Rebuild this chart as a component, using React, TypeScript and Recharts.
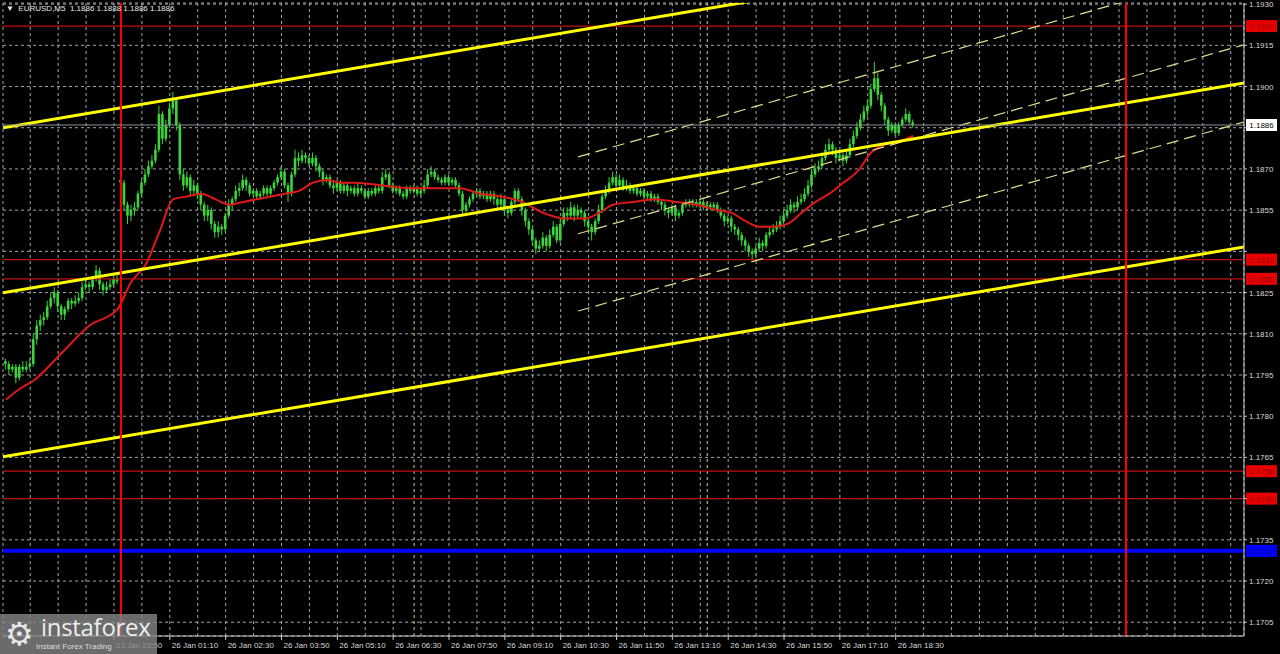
import React from "react";
import {
  ComposedChart,
  Bar,
  Line,
  XAxis,
  YAxis,
  CartesianGrid,
  ReferenceLine,
} from "recharts";

// EURUSD M5: last bars of Friday + Monday 26 Jan. Time axis is minutes from 26 Jan 00:00.
const firstBarTime = -165;
const barMinutes = 5;
const firstOpen = 1.18;
const sessionStartBar = 33; // first bar after the weekend gap
const sessionOpen = 1.1866;

const closes = [
  1.1799, 1.1797, 1.1798, 1.1794, 1.1798, 1.1797, 1.1798, 1.1799, 1.1808, 1.1813,
  1.1815, 1.1816, 1.182, 1.1823, 1.1825, 1.182, 1.1817, 1.1819, 1.1822, 1.1821,
  1.1822, 1.1823, 1.1827, 1.1828, 1.1827, 1.183, 1.1833, 1.1828, 1.1826, 1.1827,
  1.1828, 1.183, 1.1829, 1.1865, 1.1857, 1.1853, 1.1855, 1.1856, 1.1861, 1.1865,
  1.1868, 1.1871, 1.1873, 1.1877, 1.189, 1.1881, 1.1886, 1.1892, 1.1895, 1.1886,
  1.1868, 1.1864, 1.1867, 1.1862, 1.1864, 1.1861, 1.1857, 1.1853, 1.1855, 1.185,
  1.1847, 1.1849, 1.1848, 1.1853, 1.1857, 1.1859, 1.1862, 1.1863, 1.1866, 1.1864,
  1.1861, 1.1862, 1.186, 1.1861, 1.1863, 1.1861, 1.1863, 1.1865, 1.1867, 1.1869,
  1.1864, 1.1861, 1.1868, 1.1874, 1.1873, 1.1875, 1.1874, 1.1872, 1.1874, 1.1871,
  1.1869, 1.1866, 1.1867, 1.1864, 1.1863, 1.1865, 1.1862, 1.1864, 1.1862, 1.1863,
  1.1861, 1.1863, 1.1862, 1.186, 1.1862, 1.1861, 1.1863, 1.1862, 1.1867, 1.1868,
  1.1864, 1.1862, 1.1863, 1.1861, 1.186, 1.1863, 1.1862, 1.1863, 1.1861, 1.1862,
  1.1864, 1.1868, 1.1869, 1.1867, 1.1866, 1.1865, 1.1867, 1.1865, 1.1866, 1.1864,
  1.1861, 1.1855, 1.1857, 1.1859, 1.1861, 1.1862, 1.186, 1.1861, 1.1859, 1.1861,
  1.1859, 1.1857, 1.1859, 1.1855, 1.1854, 1.1858, 1.1862, 1.1859, 1.1855, 1.1851,
  1.1848, 1.1844, 1.1841, 1.1842, 1.1845, 1.1842, 1.1846, 1.1849, 1.1844, 1.185,
  1.1854, 1.1853, 1.1856, 1.1853, 1.1855, 1.1854, 1.1851, 1.1849, 1.1847, 1.1851,
  1.1855, 1.186, 1.1862, 1.1865, 1.1867, 1.1864, 1.1866, 1.1863, 1.1864, 1.1862,
  1.1863, 1.1861, 1.1862, 1.186, 1.1861, 1.1859, 1.186, 1.1858, 1.1857, 1.1855,
  1.1854, 1.1856, 1.1853, 1.1854, 1.1857, 1.1858, 1.1857, 1.1858, 1.1857, 1.1858,
  1.1856, 1.1857, 1.1856, 1.1857, 1.1855, 1.1853, 1.1851, 1.1852, 1.1849, 1.1848,
  1.1846, 1.1844, 1.1842, 1.184, 1.1839, 1.1841, 1.1843, 1.1842, 1.1846, 1.1847,
  1.1848, 1.1849, 1.1851, 1.1853, 1.1855, 1.1857, 1.1856, 1.1858, 1.1859, 1.1861,
  1.1864, 1.1868, 1.187, 1.1871, 1.1874, 1.1877, 1.1879, 1.1877, 1.1874, 1.1875,
  1.1873, 1.1875, 1.1879, 1.1882, 1.1885, 1.1888, 1.1891, 1.1893, 1.1899, 1.1903,
  1.1897, 1.1893, 1.1888, 1.1884, 1.1886, 1.1883, 1.1886, 1.1888, 1.189, 1.1887, 1.1886,
];

const highs = [
  1.1801, 1.18, 1.1799, 1.1799, 1.1799, 1.18, 1.18, 1.1801, 1.181, 1.1815,
  1.1817, 1.1818, 1.1822, 1.1825, 1.1827, 1.1826, 1.1821, 1.182, 1.1823, 1.1823,
  1.1824, 1.1825, 1.1829, 1.183, 1.1829, 1.1831, 1.1835, 1.1834, 1.1829, 1.1829,
  1.183, 1.1831, 1.1832, 1.1868, 1.1866, 1.1858, 1.1857, 1.1858, 1.1862, 1.1866,
  1.187, 1.1873, 1.1875, 1.1879, 1.1893, 1.1891, 1.1888, 1.1894, 1.1898, 1.1896,
  1.1887, 1.187, 1.1869, 1.1868, 1.1866, 1.1865, 1.1862, 1.1858, 1.1857, 1.1856,
  1.1851, 1.1851, 1.185, 1.1854, 1.1859, 1.186, 1.1864, 1.1865, 1.1868, 1.1867,
  1.1865, 1.1863, 1.1863, 1.1862, 1.1864, 1.1864, 1.1864, 1.1866, 1.1868, 1.1871,
  1.187, 1.1865, 1.1869, 1.1877, 1.1876, 1.1877, 1.1876, 1.1875, 1.1876, 1.1875,
  1.1872, 1.187, 1.1868, 1.1868, 1.1866, 1.1866, 1.1866, 1.1865, 1.1865, 1.1864,
  1.1864, 1.1865, 1.1864, 1.1863, 1.1863, 1.1863, 1.1864, 1.1864, 1.1869, 1.187,
  1.1869, 1.1865, 1.1864, 1.1864, 1.1862, 1.1864, 1.1864, 1.1864, 1.1864, 1.1863,
  1.1866, 1.187, 1.1871, 1.187, 1.1868, 1.1867, 1.1868, 1.1868, 1.1867, 1.1867,
  1.1865, 1.1862, 1.1858, 1.186, 1.1862, 1.1863, 1.1863, 1.1862, 1.1862, 1.1862,
  1.1862, 1.186, 1.1861, 1.186, 1.1856, 1.1859, 1.1863, 1.1863, 1.186, 1.1856,
  1.1852, 1.1849, 1.1845, 1.1844, 1.1847, 1.1846, 1.1848, 1.1851, 1.185, 1.1852,
  1.1856, 1.1856, 1.1858, 1.1857, 1.1857, 1.1856, 1.1855, 1.1852, 1.185, 1.1852,
  1.1857, 1.1861, 1.1864, 1.1867, 1.1869, 1.1868, 1.1868, 1.1867, 1.1866, 1.1865,
  1.1864, 1.1864, 1.1863, 1.1863, 1.1862, 1.1862, 1.1861, 1.1861, 1.1859, 1.1858,
  1.1856, 1.1857, 1.1857, 1.1855, 1.1858, 1.1859, 1.1859, 1.1859, 1.1859, 1.1859,
  1.1859, 1.1858, 1.1858, 1.1858, 1.1858, 1.1856, 1.1854, 1.1853, 1.1853, 1.185,
  1.1849, 1.1847, 1.1845, 1.1843, 1.1841, 1.1842, 1.1845, 1.1844, 1.1847, 1.1849,
  1.185, 1.1851, 1.1853, 1.1855, 1.1857, 1.1859, 1.1858, 1.186, 1.1861, 1.1863,
  1.1866, 1.187, 1.1872, 1.1873, 1.1876, 1.1879, 1.1881, 1.188, 1.1878, 1.1877,
  1.1876, 1.1877, 1.1881, 1.1884, 1.1887, 1.189, 1.1893, 1.1895, 1.1901, 1.1909,
  1.1905, 1.1898, 1.1894, 1.1889, 1.1887, 1.1887, 1.1887, 1.1889, 1.1892, 1.1891, 1.1888,
];

const lows = [
  1.1797, 1.1795, 1.1796, 1.1792, 1.1793, 1.1796, 1.1796, 1.1797, 1.1798, 1.1806,
  1.1811, 1.1813, 1.1815, 1.1819, 1.1821, 1.1818, 1.1815, 1.1815, 1.1818, 1.1819,
  1.182, 1.1821, 1.1822, 1.1826, 1.1825, 1.1826, 1.1829, 1.1826, 1.1824, 1.1825,
  1.1826, 1.1827, 1.1828, 1.1862, 1.1855, 1.185, 1.1851, 1.1853, 1.1855, 1.186,
  1.1864, 1.1867, 1.187, 1.1872, 1.1876, 1.1879, 1.188, 1.1885, 1.189, 1.1884,
  1.1866, 1.1862, 1.1863, 1.186, 1.186, 1.1859, 1.1855, 1.1851, 1.1851, 1.1848,
  1.1845, 1.1845, 1.1846, 1.1847, 1.1852, 1.1855, 1.1858, 1.186, 1.1862, 1.1862,
  1.186, 1.186, 1.1859, 1.1859, 1.186, 1.186, 1.186, 1.1862, 1.1864, 1.1866,
  1.1863, 1.1858, 1.186, 1.1867, 1.1871, 1.1872, 1.1872, 1.1871, 1.1871, 1.1869,
  1.1867, 1.1864, 1.1865, 1.1863, 1.1861, 1.1862, 1.1861, 1.1861, 1.186, 1.1861,
  1.186, 1.186, 1.1861, 1.1859, 1.1859, 1.186, 1.186, 1.1861, 1.1861, 1.1866,
  1.1863, 1.1861, 1.1861, 1.186, 1.1859, 1.1859, 1.1861, 1.1861, 1.186, 1.186,
  1.1861, 1.1863, 1.1867, 1.1866, 1.1865, 1.1864, 1.1864, 1.1864, 1.1864, 1.1863,
  1.186, 1.1853, 1.1854, 1.1856, 1.1858, 1.186, 1.1859, 1.1859, 1.1858, 1.1858,
  1.1857, 1.1855, 1.1856, 1.1853, 1.1852, 1.1853, 1.1857, 1.1858, 1.1853, 1.1849,
  1.1846, 1.1842, 1.1839, 1.184, 1.1841, 1.184, 1.1841, 1.1845, 1.1843, 1.1843,
  1.1849, 1.1851, 1.1852, 1.1851, 1.1852, 1.1852, 1.1849, 1.1847, 1.1844, 1.1846,
  1.185, 1.1854, 1.1859, 1.1861, 1.1864, 1.1863, 1.1863, 1.1862, 1.1862, 1.1861,
  1.1861, 1.186, 1.186, 1.1859, 1.1859, 1.1858, 1.1858, 1.1857, 1.1855, 1.1853,
  1.1852, 1.1853, 1.1851, 1.1852, 1.1853, 1.1856, 1.1856, 1.1856, 1.1856, 1.1856,
  1.1855, 1.1855, 1.1855, 1.1855, 1.1854, 1.1852, 1.1849, 1.185, 1.1847, 1.1846,
  1.1844, 1.1842, 1.184, 1.1838, 1.1837, 1.1838, 1.184, 1.184, 1.1841, 1.1845,
  1.1846, 1.1847, 1.1848, 1.185, 1.1852, 1.1854, 1.1854, 1.1855, 1.1857, 1.1858,
  1.186, 1.1863, 1.1867, 1.1869, 1.187, 1.1873, 1.1876, 1.1875, 1.1872, 1.1873,
  1.1871, 1.1872, 1.1874, 1.1878, 1.1881, 1.1884, 1.1887, 1.1889, 1.1892, 1.1898,
  1.1895, 1.1891, 1.1886, 1.1882, 1.1883, 1.1882, 1.1882, 1.1885, 1.1887, 1.1886, 1.1885,
];

// moving average, sampled at these bar indexes
const maBars = [
  0, 4, 8, 16, 24, 32, 36, 40, 44, 48, 52, 56, 60, 64, 68, 72, 76, 80, 84, 88,
  92, 96, 100, 108, 116, 124, 130, 136, 142, 148, 154, 160, 166, 170, 174, 180,
  186, 192, 198, 204, 208, 212, 216, 220, 224, 228, 232, 236, 240, 244, 248, 252,
  256, 260,
];
const maValues = [
  1.1786, 1.179, 1.1793, 1.1803, 1.1813, 1.1819, 1.1829, 1.1835, 1.1847, 1.1859,
  1.186, 1.1861, 1.1859, 1.1857, 1.1858, 1.1859, 1.186, 1.1861, 1.1862, 1.1865,
  1.1866, 1.1865, 1.1865, 1.1864, 1.1863, 1.1863, 1.1863, 1.1861, 1.186, 1.1858,
  1.1854, 1.1852, 1.1852, 1.1854, 1.1857, 1.1858, 1.1859, 1.1858, 1.1857, 1.1855,
  1.1854, 1.1851, 1.1849, 1.1849, 1.185, 1.1854, 1.1858, 1.1861, 1.1865, 1.1869,
  1.1876, 1.1879, 1.188, 1.1882,
];

const yTicks = [
  1.1705, 1.172, 1.1735, 1.175, 1.1765, 1.178, 1.1795, 1.181, 1.1825, 1.184,
  1.1855, 1.187, 1.1885, 1.19, 1.1915, 1.193,
];
const xTickTimes = [-10, 70, 150, 230, 310, 390, 470, 550, 630, 710, 790, 870, 950, 1030, 1110];
const xTickLabels = [
  "23 Jan 23:50", "26 Jan 01:10", "26 Jan 02:30", "26 Jan 03:50",
  "26 Jan 05:10", "26 Jan 06:30", "26 Jan 07:50", "26 Jan 09:10", "26 Jan 10:30",
  "26 Jan 11:50", "26 Jan 13:10", "26 Jan 14:30", "26 Jan 15:50", "26 Jan 17:10",
  "26 Jan 18:30",
];

const redLevels = [1.1922, 1.1837, 1.183, 1.176, 1.175];
const blueLevel = 1.1731;
const lastPrice = 1.1886;
const dayBreaks = [0, 1440];
const sessionMarks = [420, 840];

// [t1, price1, t2, price2]
const trendChannel = [
  [-169, 1.1885, 1609, 1.19614],
  [-169, 1.18249, 1609, 1.19013],
  [-169, 1.17652, 1609, 1.18416],
];
const regressionChannel = [
  [655, 1.18744, 1609, 1.19433],
  [655, 1.18464, 1609, 1.19152],
  [655, 1.18183, 1609, 1.18871],
];

const X_DOMAIN = [-169, 1609];
const Y_DOMAIN = [1.17, 1.19304];
const FONT = "'Liberation Sans', Arial, sans-serif";
const CANDLE = "#3bd43b";

const xGridTimes: number[] = [];
for (let t = -130; t <= 1609; t += 40) xGridTimes.push(t);

const candles = closes.map((close, i) => {
  const open = i === 0 ? firstOpen : i === sessionStartBar ? sessionOpen : closes[i - 1];
  return {
    t: firstBarTime + i * barMinutes,
    open,
    close,
    high: highs[i],
    low: lows[i],
    range: [lows[i], highs[i]],
    ma: undefined as number | undefined,
  };
});
maBars.forEach((b, k) => {
  candles[b].ma = maValues[k];
});

const Candle = (props: any) => {
  const { x, y, width, height, payload } = props;
  if (x == null || !payload) return <g />;
  const top = Math.min(y, y + height);
  const h = Math.abs(height);
  const span = payload.high - payload.low || 1;
  const py = (v: number) => top + ((payload.high - v) / span) * h;
  const cx = x + width / 2;
  const bTop = py(Math.max(payload.open, payload.close));
  const bBot = py(Math.min(payload.open, payload.close));
  return (
    <g>
      <line x1={cx} x2={cx} y1={top} y2={top + h} stroke={CANDLE} strokeWidth={1} />
      <rect x={x} y={bTop} width={width} height={Math.max(1, bBot - bTop)} fill={CANDLE} />
    </g>
  );
};

const boxedLevels = [...redLevels, blueLevel, lastPrice];

const PriceTick = (props: any) => {
  const { x, y, payload } = props;
  const v = payload.value;
  const hidden = boxedLevels.some((l) => Math.abs(l - v) < 0.0003);
  return (
    <g>
      <line x1={x} x2={x + 3} y1={y} y2={y} stroke="#c8c8c8" />
      {!hidden && (
        <text x={x + 5} y={y + 3} fill="#d8d8d8" fontSize={8} fontFamily={FONT}>
          {v.toFixed(4)}
        </text>
      )}
    </g>
  );
};

const TimeTick = (props: any) => {
  const { x, y, payload } = props;
  const idx = xTickTimes.indexOf(payload.value);
  if (idx < 0) return <g />;
  return (
    <g>
      <line x1={x} x2={x} y1={y} y2={y + 4} stroke="#c8c8c8" />
      <text x={x + 2} y={y + 12} fill="#d8d8d8" fontSize={8} fontFamily={FONT}>
        {xTickLabels[idx]}
      </text>
    </g>
  );
};

const priceTag = (value: number, bg: string, fg: string) => (props: any) => {
  const vb = props.viewBox;
  if (!vb) return null;
  const x = vb.x + vb.width + 2;
  return (
    <g>
      <rect x={x} y={vb.y - 6} width={31} height={12} fill={bg} />
      <text x={x + 15.5} y={vb.y + 3} textAnchor="middle" fill={fg} fontSize={8} fontFamily={FONT}>
        {value.toFixed(4)}
      </text>
    </g>
  );
};

export default function App() {
  return (
    <div
      style={{
        position: "fixed",
        left: 0,
        top: 0,
        width: 1280,
        height: 654,
        background: "#000",
        overflow: "hidden",
      }}
    >
      <ComposedChart
        width={1280}
        height={654}
        data={candles}
        margin={{ top: 3, right: 0, bottom: 0, left: 3 }}
      >
        <CartesianGrid stroke="#a4a4a4" strokeDasharray="3 3" />
        <XAxis
          dataKey="t"
          type="number"
          domain={X_DOMAIN}
          ticks={xGridTimes}
          allowDataOverflow
          height={18}
          tickSize={0}
          tickMargin={0}
          tickLine={false}
          tick={TimeTick}
          stroke="#c8c8c8"
          interval={0}
        />
        <YAxis
          orientation="right"
          domain={Y_DOMAIN}
          ticks={yTicks}
          allowDataOverflow
          width={36}
          tickSize={0}
          tickMargin={0}
          tickLine={false}
          tick={PriceTick}
          stroke="#c8c8c8"
          interval={0}
        />

        {sessionMarks.map((t) => (
          <ReferenceLine key={`s${t}`} x={t} stroke="#cfd27e" strokeDasharray="3 3" />
        ))}

        {redLevels.map((v) => (
          <ReferenceLine
            key={`r${v}`}
            y={v}
            stroke="#c01010"
            strokeWidth={1.2}
            label={priceTag(v, "#e80000", "#9a0000")}
          />
        ))}
        <ReferenceLine
          y={blueLevel}
          stroke="#0000ff"
          strokeWidth={4}
          label={priceTag(blueLevel, "#0000ff", "#00008a")}
        />

        <Bar
          dataKey="range"
          barSize={2.6}
          shape={Candle}
          isAnimationActive={false}
        />
        <Line
          dataKey="ma"
          type="monotone"
          connectNulls
          dot={false}
          stroke="#e01818"
          strokeWidth={2}
          isAnimationActive={false}
        />

        {regressionChannel.map(([t1, p1, t2, p2], i) => (
          <ReferenceLine
            key={`g${i}`}
            segment={[{ x: t1, y: p1 }, { x: t2, y: p2 }]}
            stroke="#e4dc8c"
            strokeWidth={1.2}
            strokeDasharray="12 6"
            ifOverflow="hidden"
          />
        ))}
        {trendChannel.map(([t1, p1, t2, p2], i) => (
          <ReferenceLine
            key={`c${i}`}
            segment={[{ x: t1, y: p1 }, { x: t2, y: p2 }]}
            stroke="#ffff00"
            strokeWidth={3}
            ifOverflow="hidden"
          />
        ))}

        {dayBreaks.map((t) => (
          <ReferenceLine key={`d${t}`} x={t} stroke="#ff0000" strokeWidth={2} />
        ))}
        <ReferenceLine
          y={lastPrice}
          stroke="#8a8e9a"
          strokeWidth={1}
          label={priceTag(lastPrice, "#ffffff", "#000000")}
        />
      </ComposedChart>

      <div
        style={{
          position: "absolute",
          left: 6,
          top: 3,
          color: "#e8e8e8",
          fontSize: 8,
          fontFamily: FONT,
          whiteSpace: "pre",
          lineHeight: "11px",
        }}
      >
        {"▼  EURUSD,M5  1.1886 1.1888 1.1886 1.1886"}
      </div>

      <div
        style={{
          position: "absolute",
          left: 0,
          top: 614,
          width: 157,
          height: 40,
          background: "rgba(130,130,130,0.82)",
        }}
      >
        <div
          style={{
            position: "absolute",
            left: 5,
            top: 0,
            fontSize: 32,
            lineHeight: "40px",
            color: "#e6e6e6",
            fontFamily: "'DejaVu Sans', sans-serif",
          }}
        >
          ⚙
        </div>
        <div
          style={{
            position: "absolute",
            left: 41,
            top: 2,
            fontSize: 24,
            lineHeight: "22px",
            color: "#eeeeee",
            fontFamily: "'Open Sans', sans-serif",
            letterSpacing: -0.3,
          }}
        >
          instaforex
        </div>
        <div
          style={{
            position: "absolute",
            left: 36,
            top: 28,
            fontSize: 8,
            lineHeight: "9px",
            color: "#dddddd",
            fontFamily: FONT,
          }}
        >
          Instant Forex Trading
        </div>
      </div>
    </div>
  );
}
